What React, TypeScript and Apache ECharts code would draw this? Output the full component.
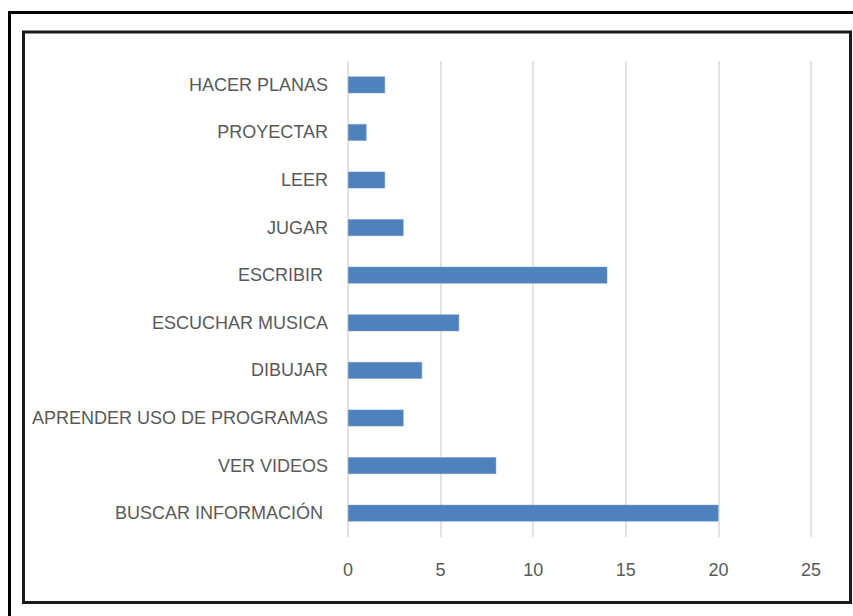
import React, { useEffect, useRef } from "react";
import * as echarts from "echarts";

const categories = [
  "BUSCAR INFORMACIÓN ",
  "VER VIDEOS",
  "APRENDER USO DE PROGRAMAS",
  "DIBUJAR",
  "ESCUCHAR MUSICA",
  "ESCRIBIR ",
  "JUGAR",
  "LEER",
  "PROYECTAR",
  "HACER PLANAS",
];
const values = [20, 8, 3, 4, 6, 14, 3, 2, 1, 2];
const xTicks = { min: 0, max: 25, interval: 5 };

const FONT = "'Liberation Sans Narrow', 'Arial Narrow', 'Liberation Sans', sans-serif";

export default function App() {
  const ref = useRef<HTMLDivElement>(null);
  useEffect(() => {
    const chart = echarts.init(ref.current!, null, { renderer: "svg" });
    chart.setOption({
      animation: false,
      backgroundColor: "#ffffff",
      grid: {
        left: 348,
        right: 42,
        top: 61,
        bottom: 79,
        containLabel: false,
        outerBoundsMode: "none",
      },
      xAxis: {
        type: "value",
        min: xTicks.min,
        max: xTicks.max,
        interval: xTicks.interval,
        axisLine: { show: false },
        axisTick: { show: false },
        splitLine: { show: true, lineStyle: { color: "#d9d9d9", width: 1.5 } },
        axisLabel: { color: "#595959", fontSize: 18, fontFamily: FONT, margin: 24 },
      },
      yAxis: {
        type: "category",
        data: categories,
        axisLine: { show: false },
        axisTick: { show: false },
        splitLine: { show: false },
        axisLabel: { color: "#595959", fontSize: 18, fontFamily: FONT, margin: 20 },
      },
      series: [
        {
          type: "bar",
          data: values,
          barWidth: "35%",
          itemStyle: { color: "#4f81bd", borderColor: "#6d97cb", borderWidth: 0.5 },
        },
      ],
      graphic: [
        {
          type: "rect",
          shape: { x: 9.5, y: 12.5, width: 900, height: 700 },
          style: { fill: "none", stroke: "#000000", lineWidth: 3 },
        },
        {
          type: "rect",
          shape: { x: 23.5, y: 32, width: 827, height: 570.5 },
          style: { fill: "none", stroke: "#1a1a1a", lineWidth: 3 },
        },
      ],
    });
    return () => chart.dispose();
  }, []);
  return (
    <div
      ref={ref}
      style={{ position: "absolute", left: 0, top: 0, width: 853, height: 616 }}
    />
  );
}
